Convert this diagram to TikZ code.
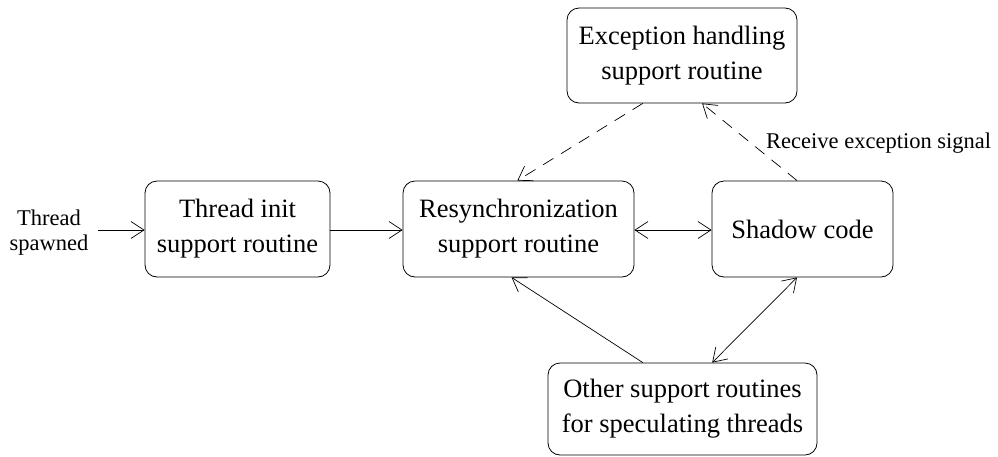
\documentclass[tikz,border=0pt]{standalone}
\usepackage{fontspec}
\setmainfont{Liberation Serif}
\usetikzlibrary{arrows.meta,calc}
\begin{document}
\begin{tikzpicture}[x=1pt,y=-1pt,
  box/.style={draw,line width=0.8pt,rounded corners=12pt,align=center,inner sep=0pt,font=\fontsize{26.5}{35}\selectfont},
  tip/.tip={Straight Barb[length=13pt,width=17pt]},
  arr/.style={-tip,line width=0.7pt},
  darr/.style={tip-tip,line width=0.7pt}]
\useasboundingbox (0,0) rectangle (998,456);
\node[box,minimum width=185pt,minimum height=96pt] (init) at (237.5,229) {Thread init\\support routine};
\node[box,minimum width=231pt,minimum height=96pt] (resync) at (518.5,229) {Resynchronization\\support routine};
\node[box,minimum width=181pt,minimum height=96pt] (shadow) at (802.5,229) {Shadow code};
\node[box,minimum width=230pt,minimum height=95pt] (exc) at (682,55.5) {Exception handling\\support routine};
\node[box,minimum width=269pt,minimum height=92pt] (other) at (682.5,409) {Other support routines\\for speculating threads};
\node[align=center,inner sep=0pt,font=\fontsize{22.5}{25}\selectfont] (spawn) at (49,233) {Thread\\spawned};
\coordinate (start) at (98,230);
\node[anchor=base west,inner sep=0pt,font=\fontsize{22.5}{25}\selectfont] (recv) at (766,148) {Receive exception signal};
\draw[arr] (start) -- (init.west|-start);
\draw[arr] (init.east|-start) -- (resync.west|-start);
\draw[darr] (resync.east|-start) -- (shadow.west|-start);
\draw[arr,dash pattern=on 12pt off 9pt] ($(exc.south west)!0.33!(exc.south east)$) -- ($(resync.north west)!0.495!(resync.north east)$);
\draw[arr,dash pattern=on 12pt off 9pt] ($(shadow.north west)!0.47!(shadow.north east)$) -- ($(exc.south west)!0.587!(exc.south east)$);
\draw[arr] ($(other.north west)!0.353!(other.north east)$) -- ($(resync.south west)!0.47!(resync.south east)$);
\draw[darr] ($(other.north west)!0.61!(other.north east)$) -- ($(shadow.south west)!0.47!(shadow.south east)$);
\end{tikzpicture}
\end{document}
